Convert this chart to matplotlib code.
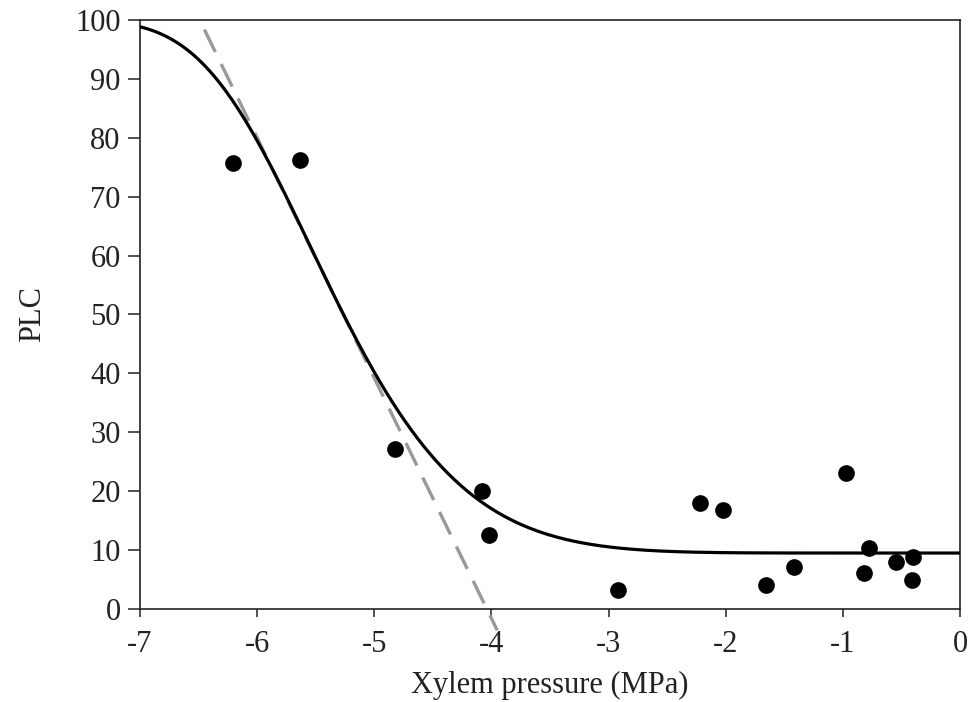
import numpy as np
import matplotlib
matplotlib.use("Agg")
from matplotlib import pyplot as plt

pressure = [-6.21, -5.63, -4.82, -4.08, -4.02, -2.92, -2.22, -2.02, -1.66,
            -1.42, -0.97, -0.78, -0.82, -0.55, -0.40, -0.41]
plc = [75.7, 76.2, 27.2, 20.0, 12.6, 3.2, 18.0, 16.8, 4.1,
       7.1, 23.1, 10.4, 6.1, 8.0, 8.8, 4.9]

# fitted Weibull vulnerability curve: PLC = base + (100-base)*(1-exp(-(P/b)^c))
base = 9.5
b_fit = 5.67
c_fit = 7.0

x_ticks = [-7, -6, -5, -4, -3, -2, -1, 0]
y_ticks = [0, 10, 20, 30, 40, 50, 60, 70, 80, 90, 100]

plt.rcParams['font.family'] = ['Liberation Serif', 'DejaVu Serif']

fig = plt.figure(figsize=(9.74, 7.02), dpi=100)
ax = fig.add_axes([0.1437, 0.1325, 0.8419, 0.839])

xs = np.linspace(-7, 0, 400)
p = -xs
curve = base + (100 - base) * (1 - np.exp(-(p / b_fit) ** c_fit))
ax.plot(xs, curve, color='black', lw=2.3, zorder=3)

# tangent at P50
p50 = b_fit * np.log(2) ** (1 / c_fit)
slope = (100 - base) * (c_fit / b_fit) * (p50 / b_fit) ** (c_fit - 1) * 0.5
y50 = base + (100 - base) * 0.5
tx = np.array([-6.45, -3.95])
ty = y50 - slope * (tx + p50)
ax.plot(tx, ty, color='#999999', lw=2.4, ls=(0, (7.5, 4)), clip_on=False, zorder=2)

ax.plot(pressure, plc, 'o', color='black', ms=11, zorder=4)

ax.set_xlim(-7, 0)
ax.set_ylim(0, 100)
ax.set_xticks(x_ticks)
ax.set_yticks(y_ticks)
ax.set_xticklabels([str(t) for t in x_ticks])
ax.tick_params(direction='out', width=1.1, labelsize=22,
               colors='#222222', labelcolor='#222222')
ax.tick_params(axis='x', length=6, pad=9)
ax.tick_params(axis='y', length=9, pad=5)
for s in ax.spines.values():
    s.set_linewidth(1.2)
    s.set_color('#222222')

ax.set_xlabel('Xylem pressure (MPa)', fontsize=22, color='#222222', labelpad=9)
ax.set_ylabel('PLC', fontsize=22, color='#222222', labelpad=20)

fig.savefig('out.png', dpi=100)
